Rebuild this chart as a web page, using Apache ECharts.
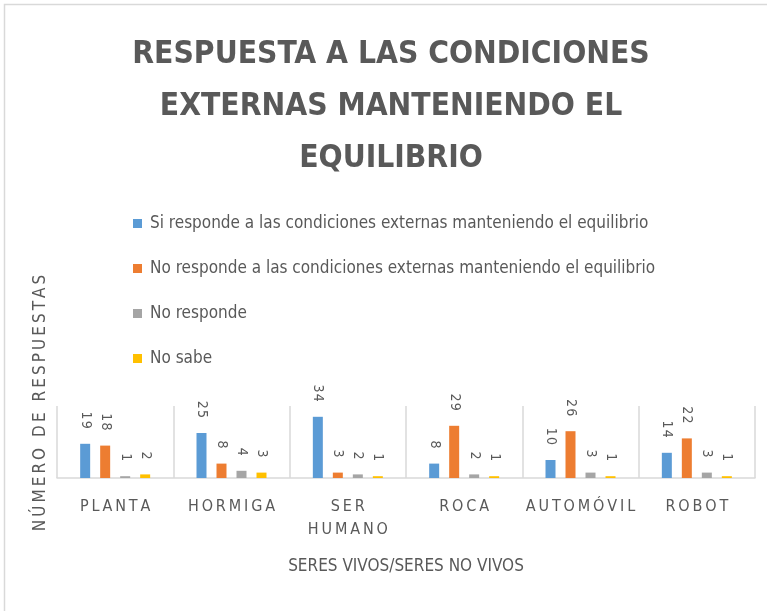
<!DOCTYPE html>
<html>
<head>
    <meta charset="utf-8">
    <title>Respuesta a las condiciones externas</title>
    <script src="https://cdn.jsdelivr.net/npm/echarts@6/dist/echarts.min.js"></script>
    <style>
        html, body { margin: 0; padding: 0; background: #fff; }
    </style>
</head>
<body>
<div id="main" style="width: 767px;height:611px;"></div>

<script type="text/javascript">
    // datos
    let categorias = ['PLANTA', 'HORMIGA', 'SER HUMANO', 'ROCA', 'AUTOMÓVIL', 'ROBOT'];
    let nombresSeries = [
        'Si responde a las condiciones externas manteniendo el equilibrio',
        'No responde a las condiciones externas manteniendo el equilibrio',
        'No responde',
        'No sabe'
    ];
    let siResponde = [19, 25, 34, 8, 10, 14];
    let noRespondeCond = [18, 8, 3, 29, 26, 22];
    let noResponde = [1, 4, 2, 2, 3, 3];
    let noSabe = [2, 3, 1, 1, 1, 1];
    let colores = ['#5B9BD5', '#ED7D31', '#A5A5A5', '#FFC000'];

    const FUENTE = "'Liberation Sans Narrow', 'DejaVu Sans Condensed', 'Open Sans', sans-serif";
    const GRIS = '#595959';

    // separa las letras con un espacio fino
    function espaciado(s, sep) {
        return s.split('').join(sep || '\u2009');
    }

    let myChart = echarts.init(document.getElementById('main'));

    let datos = [siResponde, noRespondeCond, noResponde, noSabe];
    let series = datos.map((d, i) => ({
        name: nombresSeries[i],
        type: 'bar',
        data: d,
        barWidth: 10,
        barGap: '100%',
        itemStyle: { color: colores[i] },
        label: {
            show: true,
            position: 'top',
            distance: 15,
            rotate: -90,
            align: 'right',
            verticalAlign: 'middle',
            color: GRIS,
            fontFamily: FUENTE,
            fontSize: 14,
            formatter: (p) => espaciado(String(p.value), '\u200A')
        }
    }));

    let option = {
        backgroundColor: '#fff',
        animation: false,
        title: {
            text: 'RESPUESTA A LAS CONDICIONES\nEXTERNAS MANTENIENDO EL\nEQUILIBRIO',
            left: 386,
            top: 24,
            textAlign: 'center',
            textStyle: {
                color: GRIS,
                fontFamily: FUENTE,
                fontWeight: 'bold',
                fontSize: 31.5,
                lineHeight: 52
            }
        },
        legend: {
            orient: 'vertical',
            left: 128,
            top: 210,
            itemGap: 28,
            itemWidth: 9,
            itemHeight: 9,
            icon: 'rect',
            data: nombresSeries,
            textStyle: {
                color: GRIS,
                fontFamily: FUENTE,
                fontSize: 17,
                padding: [0, 0, 0, 3]
            }
        },
        graphic: [
            {
                type: 'rect',
                shape: { x: 4.5, y: 4.5, width: 900, height: 900 },
                style: { fill: 'none', stroke: '#d9d9d9', lineWidth: 1.5 },
                silent: true
            },
            {
                type: 'text',
                x: 41,
                y: 403,
                rotation: Math.PI / 2,
                style: {
                    text: espaciado('NÚMERO DE RESPUESTAS'),
                    fill: GRIS,
                    font: "17px " + FUENTE,
                    textAlign: 'center',
                    textVerticalAlign: 'middle'
                }
            }
        ],
        grid: {
            left: 57,
            right: 12,
            top: 406,
            bottom: 133
        },
        xAxis: {
            type: 'category',
            data: categorias,
            name: 'SERES VIVOS/SERES NO VIVOS',
            nameLocation: 'middle',
            nameGap: 80,
            nameTextStyle: {
                color: GRIS,
                fontFamily: FUENTE,
                fontSize: 17
            },
            axisLine: { lineStyle: { color: '#d9d9d9', width: 1.5 } },
            axisTick: { show: false },
            splitLine: { show: true, lineStyle: { color: '#d9d9d9', width: 1.5 } },
            axisLabel: {
                color: GRIS,
                fontFamily: FUENTE,
                fontSize: 16,
                margin: 17,
                lineHeight: 23,
                interval: 0,
                formatter: (v) => v.split(' ').map(w => espaciado(w, '\u2009')).join('\n')
            }
        },
        yAxis: {
            type: 'value',
            min: 0,
            max: 40,
            show: false
        },
        series: series
    };
    myChart.setOption(option);
</script>
</body>
</html>
